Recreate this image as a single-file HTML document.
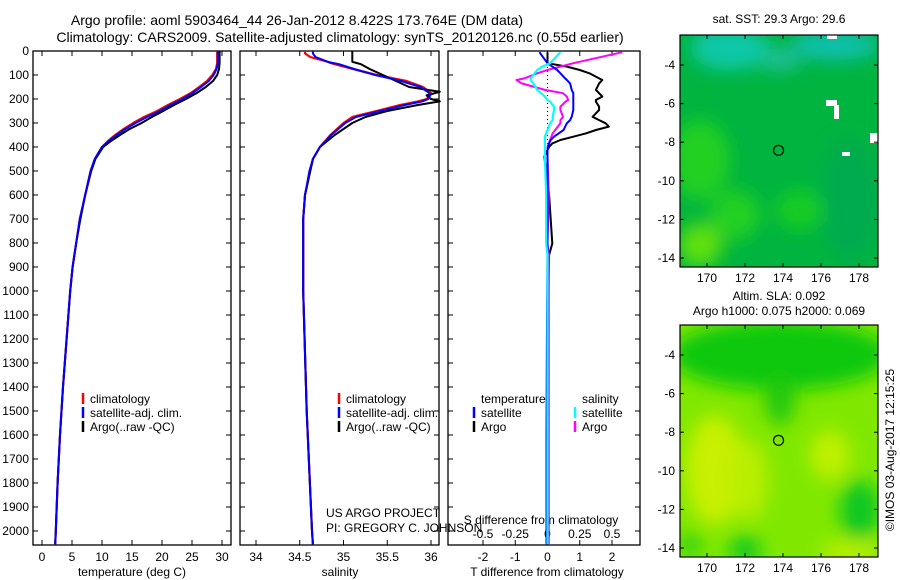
<!DOCTYPE html>
<html><head><meta charset="utf-8"><style>
body{margin:0;background:#fff;}
svg{display:block;font-family:"Liberation Sans",sans-serif;font-size:12px;}
</style></head><body>
<svg id="svg" width="900" height="580" xmlns="http://www.w3.org/2000/svg">
<defs>
<filter id="bl" x="-50%" y="-50%" width="200%" height="200%"><feGaussianBlur stdDeviation="9"/></filter>
<clipPath id="c1"><rect x="680" y="35" width="198" height="232"/></clipPath>
<clipPath id="c2"><rect x="680" y="325" width="198" height="232"/></clipPath>
</defs>
<text x="297" y="25" text-anchor="middle" font-size="14">Argo profile: aoml 5903464_44 26-Jan-2012 8.422S 173.764E (DM data)</text>
<text x="340" y="42" text-anchor="middle" font-size="14">Climatology: CARS2009. Satellite-adjusted climatology: synTS_20120126.nc (0.55d earlier)</text>

<g clip-path="url(#c1)">
<rect x="680" y="35" width="198" height="232" fill="#00b440"/>
<g filter="url(#bl)">
<ellipse cx="730" cy="48" rx="40" ry="22" fill="#10c8a8"/>
<ellipse cx="835" cy="45" rx="45" ry="15" fill="#10c0b0"/>
<ellipse cx="780" cy="60" rx="20" ry="10" fill="#20c0a0"/>
<ellipse cx="700" cy="160" rx="30" ry="40" fill="#20d020"/>
<ellipse cx="700" cy="245" rx="22" ry="22" fill="#60e010"/>
<ellipse cx="735" cy="215" rx="25" ry="25" fill="#20d020"/>
<ellipse cx="800" cy="210" rx="25" ry="20" fill="#18cc20"/>
<ellipse cx="850" cy="200" rx="28" ry="60" fill="#00aa50"/>
</g>
<rect x="826" y="100" width="11" height="6" fill="#fff"/><rect x="834" y="105" width="5" height="14" fill="#fff"/>
<rect x="842" y="152" width="8" height="4" fill="#fff"/><rect x="870" y="133" width="8" height="10" fill="#fff"/>
<rect x="827" y="35" width="10" height="4" fill="#fff"/>
</g>
<g clip-path="url(#c2)">
<rect x="680" y="325" width="198" height="232" fill="#80e800"/>
<g filter="url(#bl)">
<ellipse cx="780" cy="355" rx="110" ry="35" fill="#10c810"/>
<ellipse cx="780" cy="400" rx="15" ry="25" fill="#20c810"/>
<ellipse cx="715" cy="470" rx="30" ry="55" fill="#c8f000"/>
<ellipse cx="750" cy="480" rx="18" ry="40" fill="#b8ee00"/>
<ellipse cx="830" cy="455" rx="20" ry="25" fill="#c0f000"/>
<ellipse cx="860" cy="510" rx="20" ry="30" fill="#10c820"/>
<ellipse cx="745" cy="550" rx="16" ry="14" fill="#10c820"/>
<ellipse cx="850" cy="552" rx="30" ry="10" fill="#c0f000"/>
<ellipse cx="690" cy="545" rx="12" ry="12" fill="#30d010"/>
</g>
</g>
<g id="plots"></g>
<text x="326" y="517">US ARGO PROJECT</text>
<text x="326" y="532">PI: GREGORY C. JOHNSON</text>
<text x="779" y="23" text-anchor="middle">sat. SST: 29.3 Argo: 29.6</text>
<text x="779" y="300" text-anchor="middle">Altim. SLA: 0.092</text>
<text x="779" y="315" text-anchor="middle">Argo h1000: 0.075 h2000: 0.069</text>
<text transform="translate(894,450) rotate(-90)" text-anchor="middle">©IMOS 03-Aug-2017 12:15:25</text>
</svg>
<script>
const depthT=[0,50,75,100,125,150,175,200,225,250,275,300,325,350,375,400,450,500,600,700,800,900,1000,1200,1400,1600,1800,2000,2055];
const tempClim=[29.2,29.2,29.0,28.4,27.5,26.2,24.8,23.0,21.0,19.2,17.0,15.2,13.6,12.2,11.0,10.0,8.8,8.1,7.2,6.3,5.7,5.1,4.7,4.1,3.5,3.0,2.6,2.3,2.2];
const tempSat =[29.3,29.3,29.1,28.6,27.8,26.5,25.1,23.4,21.4,19.6,17.5,15.6,13.9,12.4,11.1,10.0,8.8,8.1,7.2,6.3,5.7,5.1,4.7,4.1,3.5,3.0,2.6,2.3,2.2];
const tempArgo=[29.6,29.6,29.5,29.2,28.5,27.3,25.8,24.0,22.0,20.2,18.3,16.6,14.6,13.0,11.5,10.2,8.9,8.2,7.2,6.4,5.7,5.1,4.7,4.1,3.5,3.0,2.6,2.3,2.2];
const depthS=[0,10,25,45,50,55,75,100,125,150,170,175,185,200,210,225,250,275,300,350,400,450,500,600,700,1000,1500,2000,2055];
const salClim=[34.56,34.56,34.62,34.82,34.85,34.9,35.11,35.38,35.72,35.91,35.98,36.0,35.99,35.95,35.85,35.65,35.38,35.1,35.0,34.85,34.73,34.65,34.62,34.56,34.54,34.54,34.58,34.64,34.65];
const salSat =[34.65,34.65,34.68,34.82,34.88,34.95,35.12,35.36,35.66,35.88,35.96,35.98,35.99,35.97,35.9,35.7,35.42,35.14,35.02,34.86,34.73,34.65,34.61,34.56,34.54,34.54,34.58,34.64,34.65];
const salArgo=[35.1,35.1,35.1,35.1,35.15,35.2,35.3,35.45,35.6,35.75,36.1,36.05,35.95,36.0,36.1,35.85,35.5,35.25,35.1,34.9,34.73,34.65,34.62,34.56,34.54,34.54,34.58,34.64,34.65];
const depthD=[5,51,65,79,93,114,121,135,162,176,190,204,211,232,246,274,288,301,315,329,343,357,371,385,399,413,440,600,802,850,1200,1600,2055];
const dTArgo=[0,0,0.6,1.0,1.3,1.6,1.7,1.6,1.5,1.6,1.7,1.5,1.5,1.6,1.6,1.4,1.6,1.8,1.9,1.5,1.2,0.8,0.4,0.15,0.05,0,-0.1,0.05,0.15,0.05,0,0,0];
const dTSat =[-0.25,0,0.15,0.3,0.4,0.55,0.6,0.7,0.75,0.8,0.8,0.8,0.8,0.8,0.8,0.75,0.7,0.6,0.55,0.5,0.35,0.2,0.1,0.05,0.02,0,0,0,0,0,-0.02,-0.03,-0.03];
const dSSat =[0.1,0.02,-0.04,-0.08,-0.1,-0.13,-0.13,-0.11,-0.08,-0.05,-0.02,0,0.02,0.05,0.05,0.04,0.04,0.02,0.01,0,-0.01,-0.02,-0.02,-0.02,-0.02,-0.02,-0.02,-0.01,-0.01,0,0,0,0];
const dSArgo=[0.58,0.2,0.1,0.0,-0.08,-0.18,-0.24,-0.2,-0.02,0.12,0.15,0.16,0.14,0.1,0.1,0.12,0.1,0.1,0.08,0.06,0.04,0.03,0.02,0.01,0,0,0,0.01,0,0.01,0.01,0.01,0.01];
const depthTicks=[0,100,200,300,400,500,600,700,800,900,1000,1100,1200,1300,1400,1500,1600,1700,1800,1900,2000];
const tempTicks=[0,5,10,15,20,25,30];
const salTicks=[34,34.5,35,35.5,36];
const dTTicks=[-2,-1,0,1,2];
const dSTicks=[-0.5,-0.25,0,0.25,0.5];
const latTicks=[-4,-6,-8,-10,-12,-14];
const lonTicks=[170,172,174,176,178];
const argoLon=173.764, argoLat=-8.422;

const NS="http://www.w3.org/2000/svg";
const G=document.getElementById('plots');
function mk(tag,attrs,parent){const e=document.createElementNS(NS,tag);for(const k in attrs)e.setAttribute(k,attrs[k]);(parent||G).appendChild(e);return e;}
const y=d=>51+d*0.24;
const pTop=51,pBot=545;
function linearX(x0,x1,v0,v1){return v=>x0+(v-v0)*(x1-x0)/(v1-v0);}
const xT=linearX(42,222,0,30), xS=linearX(256,431,34,36), xDT=linearX(483,612,-2,2), xDS=linearX(483,612,-0.5,0.5);

function frame(x0,x1,name){
  const r=mk('rect',{x:x0,y:pTop,width:x1-x0,height:pBot-pTop,fill:'none',stroke:'#000','stroke-width':1.3});
  
  
}
function xticks(ticks,fx,ly,name){
  ticks.forEach(t=>{const X=fx(t);
    mk('line',{x1:X,x2:X,y1:pTop,y2:pTop+5,stroke:'#000'});
    mk('line',{x1:X,x2:X,y1:pBot,y2:pBot-5,stroke:'#000'});
    if(ly){const e=mk('text',{x:X,y:ly,'text-anchor':'middle'});e.textContent=t;
      
      }
  });
}
function yticks(x0,x1,labels){
  depthTicks.forEach(d=>{const Y=y(d);
    mk('line',{x1:x0,x2:x0+5,y1:Y,y2:Y,stroke:'#000'});
    mk('line',{x1:x1,x2:x1-5,y1:Y,y2:Y,stroke:'#000'});
    if(labels){const e=mk('text',{x:x0-4,y:Y+4,'text-anchor':'end'});e.textContent=d;
      
      }
  });
}
function series(vals,depths,fx,color,w,name){
  const p=mk('polyline',{points:vals.map((v,i)=>fx(v).toFixed(1)+','+y(depths[i]).toFixed(1)).join(' '),fill:'none',stroke:color,'stroke-width':w,'stroke-linejoin':'round'});
  
  
}
function legend(x,yy,color,label,name){
  if(color) mk('line',{x1:x,x2:x,y1:yy-10,y2:yy+1,stroke:color,'stroke-width':2.5});
  const t=mk('text',{x:x+7,y:yy});t.textContent=label;
  
  
}
function label(x,yy,txt,name){const t=mk('text',{x:x,y:yy,'text-anchor':'middle'});t.textContent=txt;
  
  }

frame(33,231,'temperature-panel');
yticks(33,231,true);xticks(tempTicks,xT,561,'temperature-tick-label');
series(tempClim,depthT,xT,'#f00',2.2,'temperature-climatology-line');
series(tempArgo,depthT,xT,'#000',2,'temperature-argo-line');
series(tempSat,depthT,xT,'#00f',2,'temperature-satellite-line');
label(132,576,'temperature (deg C)','temperature-axis-title');
legend(83,403,'#f00','climatology','legend-climatology');
legend(83,417,'#00f','satellite-adj. clim.','legend-satellite');
legend(83,431,'#000','Argo(..raw -QC)','legend-argo');

frame(240,439,'salinity-panel');
yticks(240,439,false);xticks(salTicks,xS,561,'salinity-tick-label');
series(salClim,depthS,xS,'#f00',2.2,'salinity-climatology-line');
series(salArgo,depthS,xS,'#000',2,'salinity-argo-line');
series(salSat,depthS,xS,'#00f',2,'salinity-satellite-line');
label(340,576,'salinity','salinity-axis-title');
legend(339,403,'#f00','climatology','legend-climatology-2');
legend(339,417,'#00f','satellite-adj. clim.','legend-satellite-2');
legend(339,431,'#000','Argo(..raw -QC)','legend-argo-2');

frame(448,640,'difference-panel');
yticks(448,640,false);xticks(dTTicks,xDT,561,'t-diff-tick-label');
mk('line',{x1:xDT(0),x2:xDT(0),y1:pTop,y2:pBot,stroke:'#000','stroke-dasharray':'1,3'});
dSTicks.forEach(t=>{const e=mk('text',{x:xDS(t),y:538,'text-anchor':'middle'});e.textContent=t;
  
  });
label(541,524,'S difference from climatology','s-diff-axis-title');
label(547,576,'T difference from climatology','t-diff-axis-title');
series(dTArgo,depthD,xDT,'#000',2,'t-diff-argo-line');
series(dSArgo,depthD,xDS,'#f0f',2,'s-diff-argo-line');
series(dTSat,depthD,xDT,'#00f',2,'t-diff-satellite-line');
series(dSSat,depthD,xDS,'#0ff',2.2,'s-diff-satellite-line');
legend(474,403,null,'temperature','legend-temperature-header');
legend(474,417,'#00f','satellite','legend-t-satellite');
legend(474,431,'#000','Argo','legend-t-argo');
legend(575,403,null,'salinity','legend-salinity-header');
legend(575,417,'#0ff','satellite','legend-s-satellite');
legend(575,431,'#f0f','Argo','legend-s-argo');

const lonX=linearX(707,859,170,178);
function mapAxes(y0,y1,name){
  const latY=linearX(65,258,-4,-14);
  const off=y0-35;
  const r=mk('rect',{x:680,y:y0,width:198,height:y1-y0,fill:'none',stroke:'#000','stroke-width':1.2});
  
  
  latTicks.forEach(l=>{const Y=latY(l)+off;
    mk('line',{x1:680,x2:684,y1:Y,y2:Y,stroke:'#000'});mk('line',{x1:878,x2:874,y1:Y,y2:Y,stroke:'#000'});
    const t=mk('text',{x:675,y:Y+4,'text-anchor':'end'});t.textContent=l;
    
    });
  lonTicks.forEach(l=>{const X=lonX(l);
    mk('line',{x1:X,x2:X,y1:y0,y2:y0+4,stroke:'#000'});mk('line',{x1:X,x2:X,y1:y1,y2:y1-4,stroke:'#000'});
    const t=mk('text',{x:X,y:y1+15,'text-anchor':'middle'});t.textContent=l;
    
    });
  const c=mk('circle',{cx:lonX(argoLon),cy:latY(argoLat)+off,r:5,fill:'none',stroke:'#000','stroke-width':1.2});
  
  
}
mapAxes(35,267,'sst-map-frame');
mapAxes(325,557,'sla-map-frame');
</script>
</body></html>
